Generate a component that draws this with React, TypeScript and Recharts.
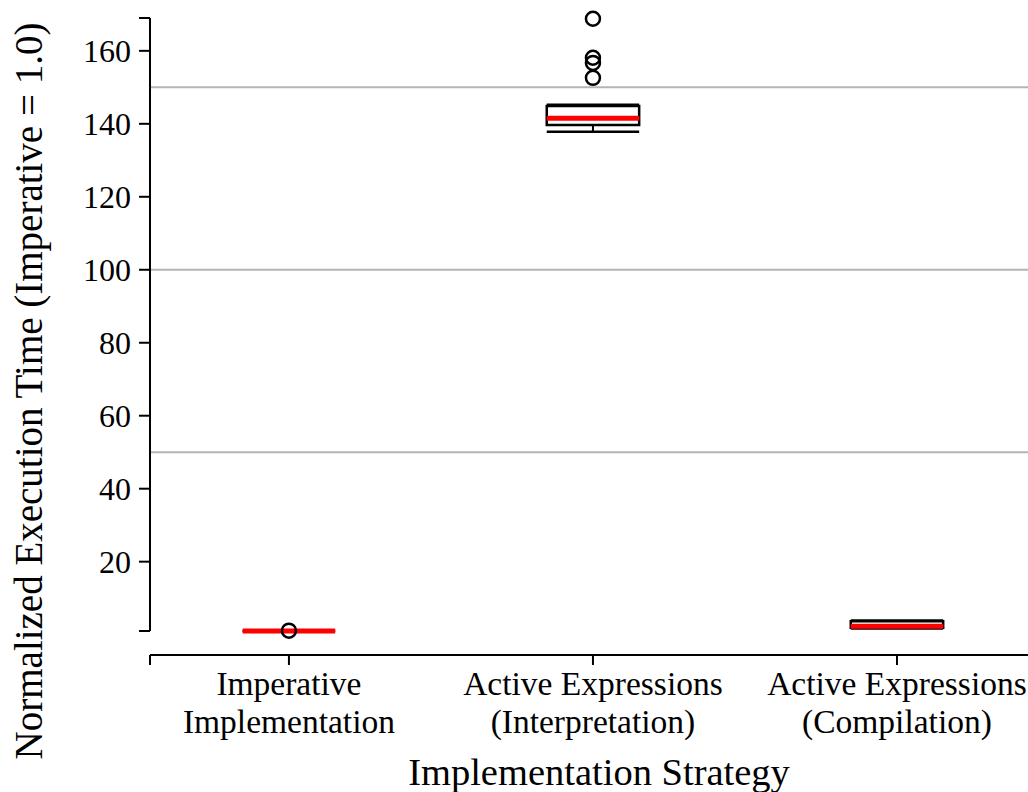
import React from 'react';
import { ComposedChart, XAxis, YAxis, Scatter, ReferenceArea, ReferenceLine } from 'recharts';

const categoryLines: string[][] = [
  ['Imperative', 'Implementation'],
  ['Active Expressions', '(Interpretation)'],
  ['Active Expressions', '(Compilation)'],
];
const whiskerLow = [1.0, 137.8, 1.7];
const q1 = [1.0, 139.7, 1.9];
const median = [1.0, 141.5, 2.3];
const q3 = [1.0, 144.9, 3.7];
const whiskerHigh = [1.0, 145.2, 3.9];
const outliers: number[][] = [[1.1], [152.6, 156.7, 158.1, 168.8], []];

const yTicks = [1, 20, 40, 60, 80, 100, 120, 140, 160, 169];
const gridValues = [50, 100, 150];
const xMin = -0.457;
const xMax = 2.431;
const halfWidth = 0.152;

const FONT = '"Liberation Serif", "Times New Roman", serif';

const outlierPoints = outliers.flatMap((vals, i) => vals.map((v) => ({ x: i, y: v })));

const XTick = (props: any) => {
  const { x, y, payload } = props;
  const lines = categoryLines[payload.value];
  if (!lines) return null;
  return (
    <text x={x} y={y} textAnchor="middle" fontFamily={FONT} fontSize={33.5} fill="#000">
      <tspan x={x} dy={28}>{lines[0]}</tspan>
      <tspan x={x} dy={38}>{lines[1]}</tspan>
    </text>
  );
};

const Circle = (props: any) => (
  <circle cx={props.cx} cy={props.cy} r={7} fill="none" stroke="#000" strokeWidth={2.5} />
);

export default function App() {
  return (
    <div style={{ position: 'absolute', left: 0, top: 0, background: '#fff' }}>
      <ComposedChart width={1028} height={792} margin={{ top: 18, right: 0, bottom: 0, left: 0 }}>
        <XAxis
          type="number"
          dataKey="x"
          domain={[xMin, xMax]}
          ticks={[xMin, 0, 1, 2]}
          height={137}
          tickSize={10}
          stroke="#000"
          strokeWidth={2}
          tick={<XTick />}
        />
        <YAxis
          type="number"
          dataKey="y"
          domain={[1, 169]}
          ticks={yTicks}
          width={150}
          padding={{ top: 0, bottom: 24 }}
          axisLine={false}
          tickSize={11}
          tickMargin={8}
          tickLine={{ stroke: '#000', strokeWidth: 2 }}
          tick={{ fontFamily: FONT, fontSize: 32, fill: '#000' }}
          tickFormatter={(v: number) => (v % 20 === 0 ? String(v) : '')}
        />
        {gridValues.map((g) => (
          <ReferenceLine key={'g' + g} y={g} stroke="#b4b4b4" strokeWidth={2} />
        ))}
        <ReferenceLine
          segment={[{ x: xMin, y: 1 }, { x: xMin, y: 169 }]}
          stroke="#000"
          strokeWidth={2}
          ifOverflow="visible"
        />
        {categoryLines.map((_, i) => (
          <ReferenceArea
            key={'box' + i}
            x1={i - halfWidth}
            x2={i + halfWidth}
            y1={q1[i]}
            y2={q3[i]}
            fill="#fff"
            fillOpacity={1}
            stroke="#000"
            strokeWidth={2.5}
            ifOverflow="visible"
          />
        ))}
        {categoryLines.map((_, i) => (
          <ReferenceLine key={'wl' + i} segment={[{ x: i, y: q1[i] }, { x: i, y: whiskerLow[i] }]} stroke="#000" strokeWidth={2} ifOverflow="visible" />
        ))}
        {categoryLines.map((_, i) => (
          <ReferenceLine key={'wh' + i} segment={[{ x: i, y: q3[i] }, { x: i, y: whiskerHigh[i] }]} stroke="#000" strokeWidth={2} ifOverflow="visible" />
        ))}
        {categoryLines.map((_, i) => (
          <ReferenceLine key={'cl' + i} segment={[{ x: i - halfWidth, y: whiskerLow[i] }, { x: i + halfWidth, y: whiskerLow[i] }]} stroke="#000" strokeWidth={2.5} ifOverflow="visible" />
        ))}
        {categoryLines.map((_, i) => (
          <ReferenceLine key={'ch' + i} segment={[{ x: i - halfWidth, y: whiskerHigh[i] }, { x: i + halfWidth, y: whiskerHigh[i] }]} stroke="#000" strokeWidth={2.5} ifOverflow="visible" />
        ))}
        {categoryLines.map((_, i) => (
          <ReferenceLine key={'md' + i} segment={[{ x: i - halfWidth, y: median[i] }, { x: i + halfWidth, y: median[i] }]} stroke="#ff0000" strokeWidth={5} ifOverflow="visible" />
        ))}
        <Scatter data={outlierPoints} dataKey="y" shape={<Circle />} isAnimationActive={false} />
      </ComposedChart>
      <svg width={1028} height={792} style={{ position: 'absolute', left: 0, top: 0, pointerEvents: 'none' }}>
        <text x={42} y={391} transform="rotate(-90, 42, 391)" textAnchor="middle" fontFamily={FONT} fontSize={39} fill="#000">
          Normalized Execution Time (Imperative = 1.0)
        </text>
        <text x={599} y={785} textAnchor="middle" fontFamily={FONT} fontSize={38.5} fill="#000">
          Implementation Strategy
        </text>
      </svg>
    </div>
  );
}
